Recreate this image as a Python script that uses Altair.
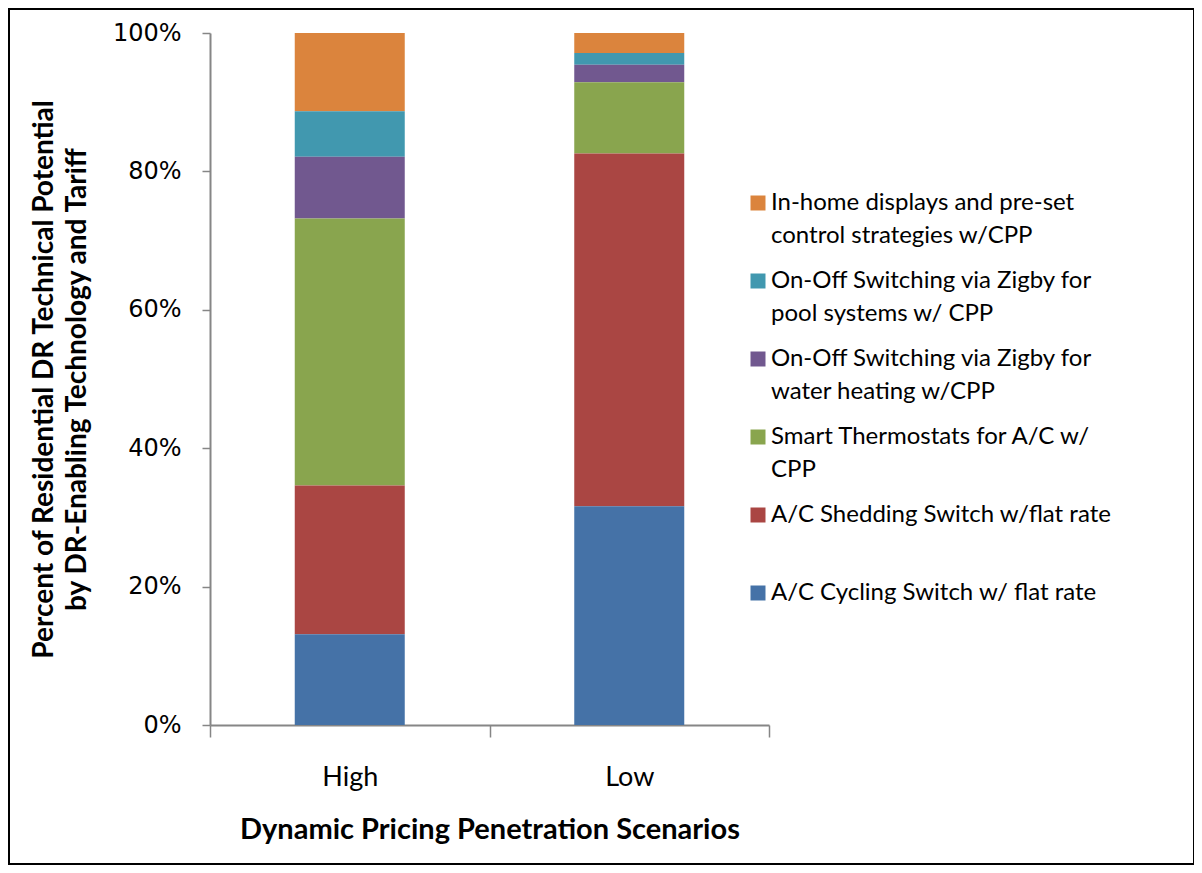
import altair as alt
import pandas as pd

# ---- data ----
scenarios = ["High", "Low"]
technologies = [
    "In-home displays and pre-set\ncontrol strategies  w/CPP",
    "On-Off Switching via Zigby for\npool systems  w/ CPP",
    "On-Off Switching via Zigby for\nwater heating   w/CPP",
    "Smart Thermostats  for A/C w/\nCPP",
    "A/C Shedding Switch w/flat rate\n ",
    "A/C Cycling Switch w/ flat rate\n ",
]
colors = ["#DB843D", "#4198AF", "#71588F", "#89A54E", "#AA4643", "#4572A7"]
# shares in percent, listed in the same order as technologies
high_values = [11.3, 6.6, 8.9, 38.6, 21.5, 13.1]
low_values = [2.9, 1.7, 2.5, 10.3, 51.0, 31.6]
stack_rank = [5, 4, 3, 2, 1, 0]  # 0 = bottom of the stack

rows = []
for tech, hv, lv, rk in zip(technologies, high_values, low_values, stack_rank):
    rows.append({"scenario": "High", "tech": tech, "value": hv, "rank": rk})
    rows.append({"scenario": "Low", "tech": tech, "value": lv, "rank": rk})
df = pd.DataFrame(rows)

FONT = "Lato"
GRAY = "#868686"

bars = alt.Chart(df).mark_bar(size=110).encode(
    x=alt.X(
        "scenario:N",
        sort=scenarios,
        scale=alt.Scale(paddingInner=0, paddingOuter=0),
        axis=alt.Axis(
            title="Dynamic Pricing Penetration Scenarios",
            titleFont=FONT,
            titleFontSize=29,
            titleFontWeight="bold",
            titleColor="black",
            titleY=113,
            titleBaseline="alphabetic",
            labelFont=FONT,
            labelFontSize=27,
            labelColor="black",
            labelAngle=0,
            labelPadding=27,
            tickBand="extent",
            tickSize=12,
            tickColor=GRAY,
            tickWidth=1.5,
            domainColor=GRAY,
            domainWidth=2,
            grid=False,
        ),
    ),
    y=alt.Y(
        "value:Q",
        stack="normalize",
        scale=alt.Scale(domain=[0, 1]),
        axis=alt.Axis(
            title=["Percent of Residential DR Technical Potential",
                   "by DR-Enabling Technology and Tariff"],
            titleFont=FONT,
            titleFontSize=28,
            titleFontWeight="bold",
            titleColor="black",
            titleLineHeight=33,
            titleBaseline="top",
            titleX=-180,
            format="%",
            values=[0, 0.2, 0.4, 0.6, 0.8, 1.0],
            labelFont="DejaVu Sans",
            labelFontSize=24,
            labelColor="black",
            labelPadding=21,
            tickSize=8,
            tickColor=GRAY,
            tickWidth=1.5,
            domainColor=GRAY,
            domainWidth=2,
            grid=False,
        ),
    ),
    color=alt.Color(
        "tech:N",
        scale=alt.Scale(domain=technologies, range=colors),
        legend=alt.Legend(
            title=None,
            orient="none",
            legendX=536,
            legendY=158,
            padding=0,
            symbolType="square",
            symbolSize=225,
            symbolStrokeWidth=0,
            symbolOpacity=1,
            labelFont=FONT,
            labelFontSize=24,
            labelColor="black",
            labelLimit=500,
            labelBaseline="middle",
            labelOffset=1,
            labelExpr="split(datum.label, '\\n')",
            rowPadding=21,
        ),
    ),
    order=alt.Order("rank:Q", sort="ascending"),
)

frame = alt.Chart(pd.DataFrame({"k": [0]})).mark_rect(
    filled=False, stroke="black", strokeWidth=2
).encode(
    x=alt.value(-201), x2=alt.value(984), y=alt.value(-24), y2=alt.value(831)
)

chart = alt.layer(frame, bars).properties(
    width=559,
    height=692,
    padding={"left": 202, "top": 25, "right": 425, "bottom": 140},
    autosize=alt.AutoSizeParams(type="none"),
).configure(
    background="white",
    view={"stroke": None, "strokeWidth": 0},
    style={"guide-label": {"lineHeight": 33}},
)

chart.save("out.html", embed_options={"renderer": "svg", "actions": False})
